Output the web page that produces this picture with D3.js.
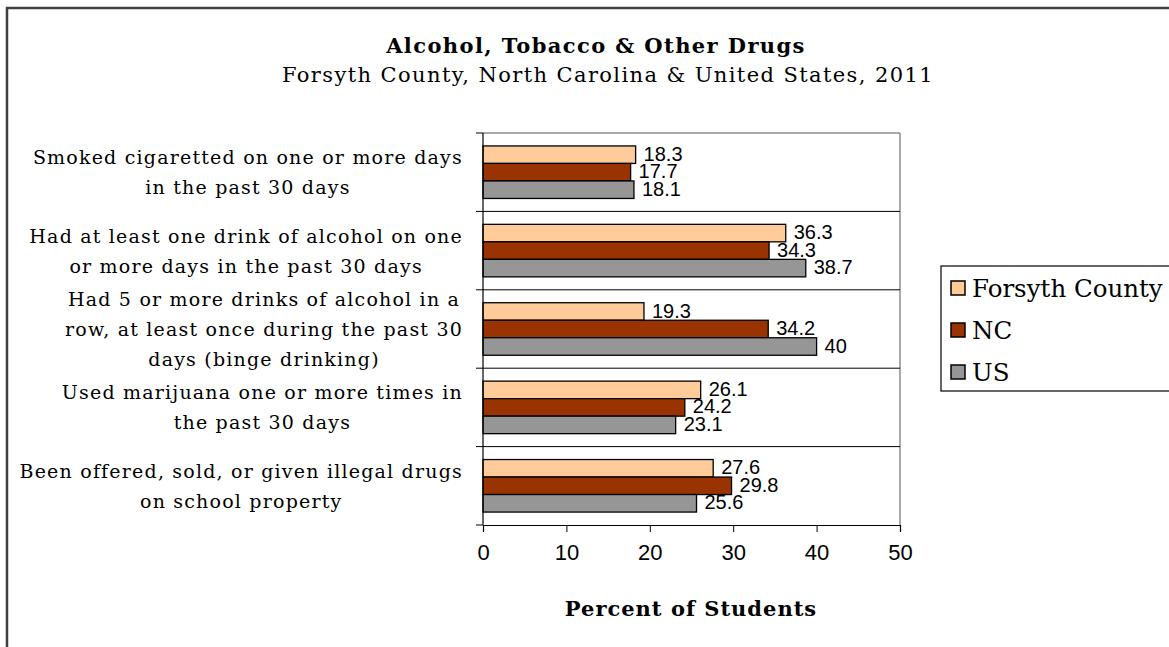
<!DOCTYPE html>
<html><head><meta charset="utf-8">
<script src="https://cdn.jsdelivr.net/npm/d3@7/dist/d3.min.js"></script>
<style>
html,body{margin:0;padding:0;background:#fff;}
svg{display:block;}
</style>
</head><body>
<svg id="chart" width="1169" height="647"></svg>
<script>
// ---- data ----
const categoryLines = [
  ["Smoked cigaretted on one or more days", "in the past 30 days"],
  ["Had at least one drink of alcohol on one", "or more days in the past 30 days"],
  ["Had 5 or more drinks of alcohol in a", "row, at least once during the past 30", "days (binge drinking)"],
  ["Used marijuana one or more times in", "the past 30 days"],
  ["Been offered, sold, or given illegal drugs", "on school property"]
];
const categories = categoryLines.map(l => l.join(" "));
const seriesNames = ["Forsyth County", "NC", "US"];
const forsythValues = [18.3, 36.3, 19.3, 26.1, 27.6];
const ncValues = [17.7, 34.3, 34.2, 24.2, 29.8];
const usValues = [18.1, 38.7, 40, 23.1, 25.6];
const xTicks = [0, 10, 20, 30, 40, 50];
const titleText = "Alcohol, Tobacco & Other Drugs";
const subtitleText = "Forsyth County, North Carolina & United States, 2011";
const xAxisTitle = "Percent of Students";

const seriesColors = ["#FFCC99", "#993300", "#969696"];
const seriesValues = [forsythValues, ncValues, usValues];

// ---- layout ----
const svg = d3.select("#chart");
const serif = "'DejaVu Serif', serif";
const sans = "'Liberation Sans', Arial, sans-serif";
const plot = {left: 483, right: 900, top: 133, bottom: 525};

// outer frame
svg.append("rect").attr("x", 7).attr("y", 8).attr("width", 1200).attr("height", 700)
  .attr("fill", "#fff").attr("stroke", "#404040").attr("stroke-width", 2.5);

// titles
svg.append("text").attr("x", 596).attr("y", 45).attr("text-anchor", "middle")
  .attr("dominant-baseline", "central").attr("font-family", serif).attr("font-weight", "bold")
  .attr("font-size", 21).attr("letter-spacing", 1.4).attr("fill", "#000").text(titleText);
svg.append("text").attr("x", 608).attr("y", 75).attr("text-anchor", "middle")
  .attr("dominant-baseline", "central").attr("font-family", serif)
  .attr("font-size", 21).attr("letter-spacing", 1.4).attr("fill", "#000").text(subtitleText);

// scales
const x = d3.scaleLinear().domain([0, 50]).range([plot.left, plot.right]);
const y0 = d3.scaleBand().domain(categories).range([plot.top, plot.bottom])
  .paddingInner(0.33).paddingOuter(0.165);
const y1 = d3.scaleBand().domain(seriesNames).range([0, y0.bandwidth()]);
const step = y0.step();
const bandTop = c => y0(c) - step * 0.165;

// plot border (gray)
svg.append("line").attr("x1", plot.left).attr("x2", plot.right).attr("y1", plot.top).attr("y2", plot.top)
  .attr("stroke", "#8c8c8c").attr("stroke-width", 1.5);
svg.append("line").attr("x1", plot.right).attr("x2", plot.right).attr("y1", plot.top).attr("y2", plot.bottom)
  .attr("stroke", "#8c8c8c").attr("stroke-width", 1.5);

// category separators (gridlines)
const seps = categories.slice(1).map(c => bandTop(c));
svg.selectAll("line.sep").data(seps).enter().append("line").attr("class", "sep")
  .attr("x1", plot.left).attr("x2", plot.right).attr("y1", d => d).attr("y2", d => d)
  .attr("stroke", "#000").attr("stroke-width", 1);

// bars
const groups = svg.selectAll("g.cat").data(categories).enter().append("g")
  .attr("class", "cat").attr("transform", c => `translate(0,${y0(c)})`);
groups.each(function(c, ci) {
  const g = d3.select(this);
  seriesNames.forEach((s, si) => {
    const v = seriesValues[si][ci];
    g.append("rect").attr("x", x(0)).attr("y", y1(s))
      .attr("width", x(v) - x(0)).attr("height", y1.bandwidth())
      .attr("fill", seriesColors[si]).attr("stroke", "#000").attr("stroke-width", 1.3);
  });
  seriesNames.forEach((s, si) => {
    const v = seriesValues[si][ci];
    g.append("text").attr("x", x(v) + 8).attr("y", y1(s) + y1.bandwidth() / 2 - 1)
      .attr("dominant-baseline", "central").attr("font-family", sans).attr("font-size", 20)
      .attr("fill", "#000").text(String(v));
  });
});

// left axis line + ticks at category boundaries
svg.append("line").attr("x1", plot.left).attr("x2", plot.left).attr("y1", plot.top).attr("y2", plot.bottom)
  .attr("stroke", "#000").attr("stroke-width", 1.2);
const bounds = categories.map(c => bandTop(c)).concat([plot.bottom]);
svg.selectAll("line.ltick").data(bounds).enter().append("line").attr("class", "ltick")
  .attr("x1", plot.left - 7).attr("x2", plot.left).attr("y1", d => d).attr("y2", d => d)
  .attr("stroke", "#000").attr("stroke-width", 1);

// bottom axis
const xAxis = d3.axisBottom(x).tickValues(xTicks).tickSize(7).tickPadding(12).tickFormat(d3.format("d"));
const ax = svg.append("g").attr("transform", `translate(0,${plot.bottom})`).call(xAxis);
ax.select(".domain").attr("stroke", "#000").attr("stroke-width", 1.2);
ax.selectAll(".tick line").attr("stroke", "#000");
ax.selectAll(".tick text").attr("font-family", sans).attr("font-size", 22).attr("fill", "#000");

svg.append("text").attr("x", 691).attr("y", 608).attr("text-anchor", "middle")
  .attr("dominant-baseline", "central").attr("font-family", serif).attr("font-weight", "bold")
  .attr("font-size", 21).attr("letter-spacing", 1).attr("fill", "#000").text(xAxisTitle);

// category labels: centered block, right edge at fixed x
const labelRight = 463;
const lineH = 30;
categoryLines.forEach((lines, ci) => {
  const cy = bandTop(categories[ci]) + step / 2;
  const g = svg.append("g");
  const texts = lines.map((t, li) => g.append("text")
    .attr("y", cy + (li - (lines.length - 1) / 2) * lineH)
    .attr("dominant-baseline", "central").attr("text-anchor", "middle")
    .attr("font-family", serif).attr("font-size", 19).attr("letter-spacing", 1.2)
    .attr("fill", "#000").text(t));
  const maxW = d3.max(texts, t => t.node().getComputedTextLength());
  texts.forEach(t => t.attr("x", labelRight - maxW / 2));
});

// legend
const leg = svg.append("g");
leg.append("rect").attr("x", 941).attr("y", 266).attr("width", 260).attr("height", 125)
  .attr("fill", "#fff").attr("stroke", "#000").attr("stroke-width", 1.2);
const legY = d3.scalePoint().domain(seriesNames).range([288, 372]);
seriesNames.forEach((s, si) => {
  leg.append("rect").attr("x", 951).attr("y", legY(s) - 7).attr("width", 14).attr("height", 14)
    .attr("fill", seriesColors[si]).attr("stroke", "#000").attr("stroke-width", 1.5);
  leg.append("text").attr("x", 972).attr("y", legY(s)).attr("dominant-baseline", "central")
    .attr("font-family", serif).attr("font-size", 24.5).attr("fill", "#000").text(s);
});
</script>
</body></html>
